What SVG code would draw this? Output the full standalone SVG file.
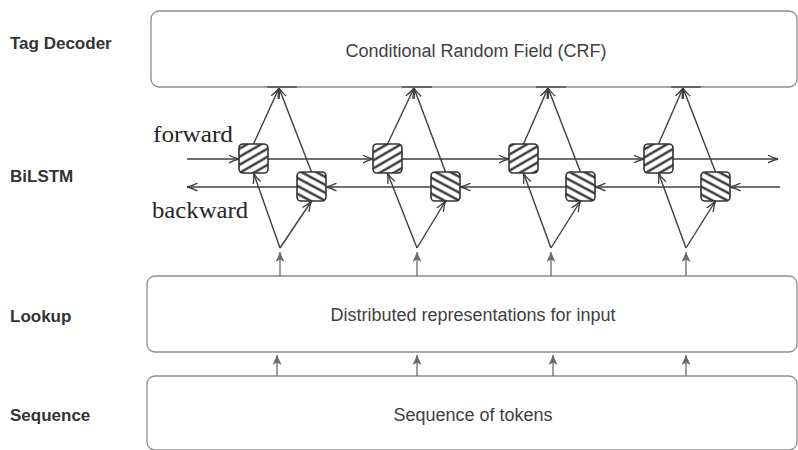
<svg xmlns="http://www.w3.org/2000/svg" width="798" height="450" viewBox="0 0 798 450">
  <defs>
    <style>
      .box { fill: #ffffff; stroke: #8c8c8c; stroke-width: 1.3; }
      .boxtext { font-family: "Liberation Sans", Arial, sans-serif; font-size: 18px; fill: #404040; text-anchor: middle; }
      .label { font-family: "Liberation Sans", Arial, sans-serif; font-size: 17px; font-weight: bold; fill: #333333; }
      .serif { font-family: "Liberation Serif", "Times New Roman", serif; font-size: 24px; fill: #262626; }
      .lstm { stroke: #3f3f3f; stroke-width: 1.4; fill: none; marker-end: url(#open); }
      .up { stroke: #6a6a6a; stroke-width: 1.3; fill: none; marker-end: url(#solid); }
      .cell { stroke: #333333; stroke-width: 1.6; }
      .fcell { fill: url(#hatchF); }
      .bcell { fill: url(#hatchB); }
      .edge { stroke: #555555; stroke-width: 1.6; }
    </style>
    <marker id="open" viewBox="0 0 11 9" refX="10.5" refY="4.5" markerUnits="userSpaceOnUse" markerWidth="11" markerHeight="9" orient="auto">
      <path d="M0,0.6 Q5.5,3.4 10.5,4.5 Q5.5,5.6 0,8.4" fill="none" stroke="#3f3f3f" stroke-width="1.3"/>
    </marker>
    <marker id="solid" viewBox="0 0 10 9" refX="10" refY="4.5" markerUnits="userSpaceOnUse" markerWidth="10" markerHeight="9" orient="auto">
      <path d="M0,0 L10,4.5 L0,9 L2.5,4.5 z" fill="#6a6a6a"/>
    </marker>
    <pattern id="hatchF" patternUnits="userSpaceOnUse" width="12" height="7" patternTransform="rotate(-30)">
      <rect width="12" height="7" fill="#ffffff"/>
      <line x1="0" y1="3.5" x2="12" y2="3.5" stroke="#262626" stroke-width="2.2"/>
    </pattern>
    <pattern id="hatchB" patternUnits="userSpaceOnUse" width="12" height="7" patternTransform="rotate(28)">
      <rect width="12" height="7" fill="#ffffff"/>
      <line x1="0" y1="3.5" x2="12" y2="3.5" stroke="#262626" stroke-width="2.2"/>
    </pattern>
  </defs>

  <rect width="798" height="450" fill="#ffffff"/>

  <!-- Layer labels -->
  <g id="label-tag-decoder"><text class="label" x="10" y="49">Tag Decoder</text></g>
  <g id="label-bilstm"><text class="label" x="10" y="182">BiLSTM</text></g>
  <g id="label-lookup"><text class="label" x="10" y="322">Lookup</text></g>
  <g id="label-sequence"><text class="label" x="10" y="421">Sequence</text></g>

  <!-- Boxes -->
  <g id="node-crf">
    <rect class="box" x="151" y="11" width="646" height="76" rx="8"/>
    <text class="boxtext" x="476" y="57">Conditional Random Field (CRF)</text>
  </g>
  <g id="node-lookup">
    <rect class="box" x="147" y="276" width="650" height="76" rx="8"/>
    <text class="boxtext" x="473" y="321">Distributed representations for input</text>
  </g>
  <g id="node-sequence">
    <rect class="box" x="147" y="376" width="650" height="74" rx="8"/>
    <text class="boxtext" x="473" y="421">Sequence of tokens</text>
  </g>

  <!-- forward / backward labels -->
  <g id="label-forward"><text class="serif" x="153" y="142" textLength="80" lengthAdjust="spacingAndGlyphs">forward</text></g>
  <g id="label-backward"><text class="serif" x="152" y="218" textLength="96" lengthAdjust="spacingAndGlyphs">backward</text></g>

  <!-- Connectors -->
  <g id="connectors">
    <!-- CRF bottom edge accents -->
    <line class="edge" x1="267" y1="87" x2="297" y2="87"/>
    <line class="edge" x1="402" y1="87" x2="432" y2="87"/>
    <line class="edge" x1="536" y1="87" x2="566" y2="87"/>
    <line class="edge" x1="671" y1="87" x2="701" y2="87"/>

    <!-- Sequence -> Lookup -->
    <line class="up" x1="277" y1="376" x2="277" y2="355"/>
    <line class="up" x1="417" y1="376" x2="417" y2="355"/>
    <line class="up" x1="553" y1="376" x2="553" y2="355"/>
    <line class="up" x1="686" y1="376" x2="686" y2="355"/>

    <!-- Lookup -> BiLSTM -->
    <line class="up" x1="280" y1="276" x2="280" y2="252"/>
    <line class="up" x1="417" y1="276" x2="417" y2="252"/>
    <line class="up" x1="551" y1="276" x2="551" y2="252"/>
    <line class="up" x1="686" y1="276" x2="686" y2="252"/>

    <!-- forward chain -->
    <line class="lstm" x1="187" y1="159" x2="239" y2="159"/>
    <line class="lstm" x1="268" y1="159" x2="373" y2="159"/>
    <line class="lstm" x1="402" y1="159" x2="509" y2="159"/>
    <line class="lstm" x1="538" y1="159" x2="644" y2="159"/>
    <line class="lstm" x1="673" y1="159" x2="778" y2="159"/>

    <!-- backward chain -->
    <line class="lstm" x1="780" y1="187" x2="730" y2="187"/>
    <line class="lstm" x1="701" y1="187" x2="595" y2="187"/>
    <line class="lstm" x1="566" y1="187" x2="460" y2="187"/>
    <line class="lstm" x1="431" y1="187" x2="326" y2="187"/>
    <line class="lstm" x1="297" y1="187" x2="187" y2="187"/>

    <!-- column 1 -->
    <line class="lstm" x1="280" y1="248" x2="253.5" y2="173"/>
    <line class="lstm" x1="280" y1="248" x2="311.5" y2="201"/>
    <line class="lstm" x1="253.5" y1="144" x2="279" y2="88"/>
    <line class="lstm" x1="311.5" y1="172" x2="279" y2="88"/>
    <!-- column 2 -->
    <line class="lstm" x1="417" y1="248" x2="387.5" y2="173"/>
    <line class="lstm" x1="417" y1="248" x2="445.5" y2="201"/>
    <line class="lstm" x1="387.5" y1="144" x2="414" y2="88"/>
    <line class="lstm" x1="445.5" y1="172" x2="414" y2="88"/>
    <!-- column 3 -->
    <line class="lstm" x1="551" y1="248" x2="523.5" y2="173"/>
    <line class="lstm" x1="551" y1="248" x2="580.5" y2="201"/>
    <line class="lstm" x1="523.5" y1="144" x2="548" y2="88"/>
    <line class="lstm" x1="580.5" y1="172" x2="548" y2="88"/>
    <!-- column 4 -->
    <line class="lstm" x1="686" y1="248" x2="658.5" y2="173"/>
    <line class="lstm" x1="686" y1="248" x2="715.5" y2="201"/>
    <line class="lstm" x1="658.5" y1="144" x2="683" y2="88"/>
    <line class="lstm" x1="715.5" y1="172" x2="683" y2="88"/>
  </g>

  <!-- LSTM cells -->
  <g id="cell-f1"><rect class="cell fcell" x="239" y="144" width="29" height="29" rx="4"/></g>
  <g id="cell-b1"><rect class="cell bcell" x="297" y="172" width="29" height="29" rx="4"/></g>
  <g id="cell-f2"><rect class="cell fcell" x="373" y="144" width="29" height="29" rx="4"/></g>
  <g id="cell-b2"><rect class="cell bcell" x="431" y="172" width="29" height="29" rx="4"/></g>
  <g id="cell-f3"><rect class="cell fcell" x="509" y="144" width="29" height="29" rx="4"/></g>
  <g id="cell-b3"><rect class="cell bcell" x="566" y="172" width="29" height="29" rx="4"/></g>
  <g id="cell-f4"><rect class="cell fcell" x="644" y="144" width="29" height="29" rx="4"/></g>
  <g id="cell-b4"><rect class="cell bcell" x="701" y="172" width="29" height="29" rx="4"/></g>
</svg>
